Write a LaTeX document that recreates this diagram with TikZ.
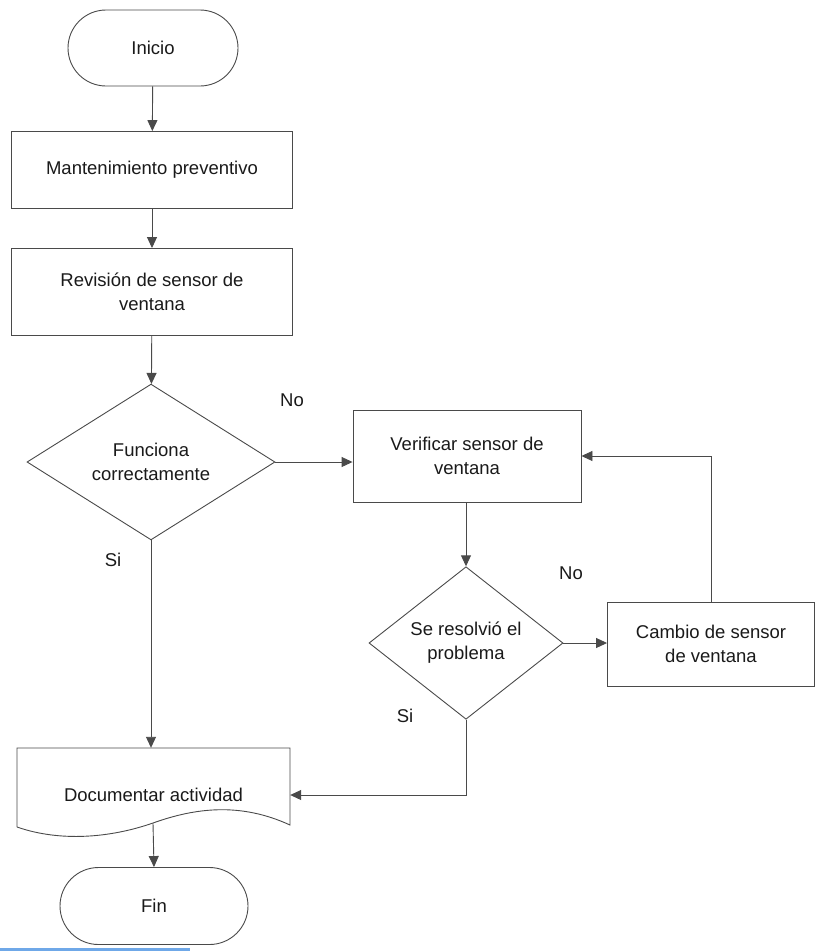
\documentclass[tikz,border=0pt]{standalone}
\usepackage{fontspec}
\setmainfont{Liberation Sans}
\usetikzlibrary{shapes.geometric,shapes.misc,arrows.meta}
\definecolor{ln}{HTML}{4A4A4A}
\definecolor{tx}{HTML}{1A1A1A}
\definecolor{barblue}{HTML}{6FA8E8}
\begin{document}
\begin{tikzpicture}[x=1pt,y=-1pt,
  every node/.style={font=\fontsize{18.5}{24}\selectfont, text=tx, align=center},
  term/.style={rounded rectangle, draw=ln, line width=0.9pt, minimum width=#1, minimum height=76pt, inner sep=0pt},
  procbox/.style={rectangle, draw=ln, line width=0.9pt, minimum width=#1, inner sep=0pt},
  dec/.style={diamond, draw=ln, line width=0.9pt, inner sep=0pt},
  conn/.style={draw=ln, line width=0.9pt, -{Triangle[length=11pt,width=10pt]}},
  lbl/.style={font=\fontsize{18.5}{24}\selectfont}]
\useasboundingbox (0,0) rectangle (817,951);
\fill[white] (0,0) rectangle (817,951);
% nodes
\node[term=170pt] (ini) at (153,48) {Inicio};
\node[procbox=281pt, minimum height=77pt] (mant) at (152,170) {Mantenimiento preventivo};
\node[procbox=281pt, minimum height=87pt] (rev) at (152,292) {Revisión de sensor de\\ventana};
\node[dec, minimum width=248pt, minimum height=149pt] (func) at (151,462) {Funciona\\correctamente};
\node[procbox=228pt, minimum height=92pt] (ver) at (467,456) {Verificar sensor de\\ventana};
\node[dec, minimum width=194pt, minimum height=140pt] (res) at (466,643) {Se resolvió el\\problema};
\node[procbox=207pt, minimum height=84pt] (camb) at (711,644) {Cambio de sensor\\de ventana};
\node[rectangle, minimum width=273pt, minimum height=94pt, inner sep=0pt] (doc) at (153.5,795) {Documentar actividad};
\coordinate (docb) at (153,823);
\draw[ln, line width=0.9pt] (17,827) -- (17,748) -- (290,748) -- (290,825)
  .. controls (240,802) and (195,808) .. (docb)
  .. controls (110,838) and (60,842) .. (17,827);
\node[term=188pt, minimum height=77pt] (fin) at (154,906) {Fin};
% labels
\node[lbl] (no1) at (292,400) {No};
\node[lbl] (si1) at (113,560) {Si};
\node[lbl] (no2) at (571,573) {No};
\node[lbl] (si2) at (405,716) {Si};
% connectors
\draw[conn] (ini) -- (mant);
\draw[conn] (mant) -- (rev);
\draw[conn] (rev) -- (func);
\draw[conn] (func.east) -- (func.east -| ver.west);
\draw[conn] (ver.south -| res.north) -- (res.north);
\draw[conn] (res.east) -- (res.east -| camb.west);
\draw[conn] (camb.north) |- (ver.east);
\draw[conn] (func.south) -- (func.south |- doc.north);
\draw[conn] (res.south) |- (doc.east);
\draw[conn] (docb) -- (fin.north);
% bottom bar
\fill[barblue] (0,948) rectangle (190,951);
\end{tikzpicture}
\end{document}
